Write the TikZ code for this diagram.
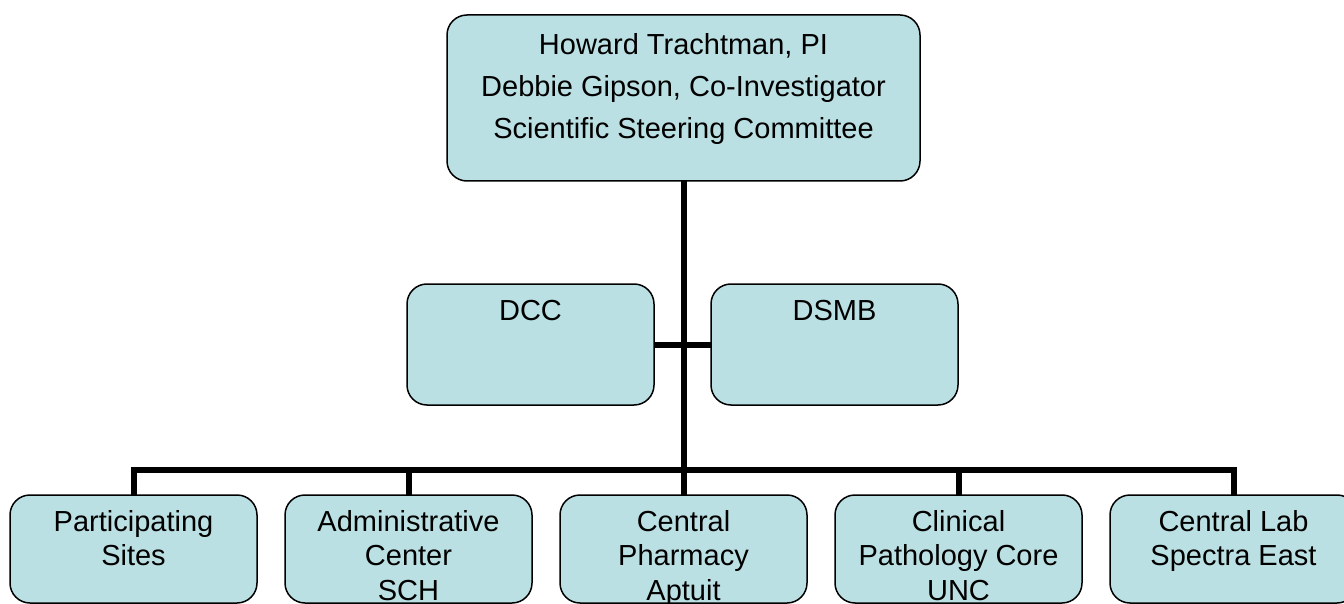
\documentclass[tikz,border=0pt]{standalone}
\usepackage{fontspec}
\setmainfont{Liberation Sans}
\usepackage{tikz}
\usetikzlibrary{positioning}

\definecolor{boxfill}{RGB}{187,224,227}
% text block of a box: [top gap], width, height, lines (set from the top)
\newcommand{\boxtext}[4][15pt]{\parbox[t][#3][t]{#2}{\centering\vspace*{#1}#4}}

\tikzset{
  orgbox/.style={draw, line width=1.5pt, fill=boxfill, rounded corners=20pt,
    inner sep=0pt, outer sep=0pt, anchor=north,
    font=\fontsize{29}{34.5}\selectfont},
  link/.style={line width=6pt}
}

\begin{document}
\begin{tikzpicture}[x=1pt, y=-1pt]
  \useasboundingbox (0,0) rectangle (1344,604);
  \clip (0,0) rectangle (1344,604);
  % Define nodes
  \node[orgbox, font=\fontsize{29}{42}\selectfont] (pi) at (683.5,15)
    {\boxtext[18pt]{473pt}{166pt}{Howard Trachtman, PI\\Debbie Gipson, Co-Investigator\\Scientific Steering Committee}};
  \node[orgbox] (dcc) at (530.5,284) {\boxtext[16pt]{247pt}{121pt}{DCC}};
  \node[orgbox, right=57pt of dcc] (dsmb) {\boxtext[16pt]{247pt}{121pt}{DSMB}};
  \node[orgbox] (sites) at (133.5,495) {\boxtext{247pt}{108pt}{Participating\\Sites}};
  \node[orgbox, right=28pt of sites] (admin) {\boxtext{247pt}{108pt}{Administrative\\Center\\SCH}};
  \node[orgbox, right=28pt of admin] (pharm) {\boxtext{247pt}{108pt}{Central\\Pharmacy\\Aptuit}};
  \node[orgbox, right=28pt of pharm] (path) {\boxtext{247pt}{108pt}{Clinical\\Pathology Core\\UNC}};
  \node[orgbox, right=28pt of path] (lab) {\boxtext{247pt}{108pt}{Central Lab\\Spectra East}};
  \coordinate (bus) at (683.5,470);
  % Connect the nodes
  \draw[link] (pi.south) -- (pharm.north);
  \draw[link] (dcc) -- (dsmb);
  \foreach \unit in {sites,admin,path,lab}
    \draw[link] (\unit.north) |- (bus);
\end{tikzpicture}
\end{document}
